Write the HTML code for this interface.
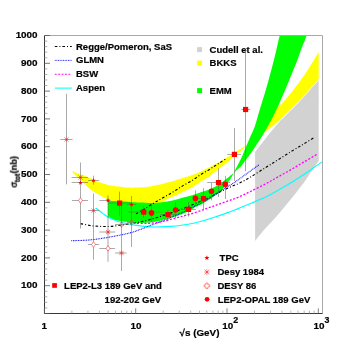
<!DOCTYPE html>
<html><head><meta charset="utf-8"><title>sigma tot</title>
<style>html,body{margin:0;padding:0;background:#fff;}body{width:360px;height:350px;overflow:hidden;}svg{display:block;}text{font-family:"Liberation Sans",sans-serif;font-weight:bold;fill:#000;stroke:#000;stroke-width:0.2px;will-change:transform;}</style>
</head><body>
<svg width="360" height="350" viewBox="0 0 360 350">
<rect x="0" y="0" width="360" height="350" fill="#fff"/>
<path d="M255.1 151.9 C256.8 149.8 262.3 142.6 265.0 139.2 C267.7 135.8 268.9 134.2 271.3 131.3 C273.7 128.4 276.9 124.6 279.3 122.0 C281.7 119.4 282.1 119.2 285.7 115.6 C289.3 112.0 296.8 104.3 300.7 100.2 C304.6 96.1 306.3 94.0 309.3 90.7 C312.3 87.4 317.1 82.0 318.7 80.3 L318.7 161.0 C317.6 162.6 314.4 167.0 312.0 170.5 C309.6 174.0 307.7 177.2 304.3 181.9 C300.9 186.6 295.7 193.2 291.4 198.6 C287.1 203.9 282.9 209.1 278.6 214.0 C274.3 218.9 269.6 223.6 265.7 228.1 C261.8 232.6 256.9 238.8 255.1 241.0 Z" fill="#d2d2d2"/>
<path d="M71.6 171.0 C73.0 171.5 77.7 173.3 80.0 174.2 C82.3 175.1 83.5 175.4 85.7 176.3 C87.9 177.2 91.4 178.8 93.4 179.7 C95.5 180.6 96.1 181.1 98.0 181.8 C99.9 182.5 102.8 183.4 105.0 184.0 C107.2 184.6 107.8 185.1 110.9 185.6 C114.0 186.1 120.5 186.9 123.7 187.2 C126.9 187.5 127.8 187.5 130.0 187.6 C132.2 187.7 134.4 187.6 136.6 187.5 C138.8 187.4 140.8 187.4 143.0 187.2 C145.2 187.0 147.2 186.8 150.0 186.4 C152.8 186.0 157.1 185.2 160.0 184.6 C162.9 184.0 164.7 183.3 167.2 182.6 C169.7 181.9 172.2 181.2 175.0 180.4 C177.8 179.6 181.3 178.4 184.3 177.5 C187.3 176.6 190.0 175.8 192.9 174.7 C195.8 173.6 199.0 172.3 201.5 171.2 C204.0 170.1 205.9 169.2 208.0 168.1 C210.1 167.0 212.1 165.9 214.3 164.7 C216.5 163.5 218.6 162.3 221.0 160.9 C223.4 159.5 226.3 157.8 228.6 156.4 C230.9 155.0 232.6 153.9 235.0 152.4 C237.4 150.9 240.8 148.8 242.9 147.5 C245.0 146.2 246.6 145.2 247.3 144.7 L247.3 145.4 C246.6 146.0 244.8 147.6 242.9 149.2 C241.0 150.8 238.1 152.8 235.7 154.8 C233.3 156.8 231.0 159.1 228.6 161.2 C226.2 163.3 223.4 165.4 221.0 167.3 C218.6 169.2 216.5 170.9 214.3 172.6 C212.1 174.3 210.3 175.9 207.9 177.5 C205.5 179.1 202.5 180.5 200.0 182.1 C197.5 183.7 195.5 185.4 192.9 186.9 C190.3 188.4 187.2 189.8 184.3 191.2 C181.4 192.6 178.5 194.2 175.7 195.5 C172.8 196.8 169.8 197.7 167.2 198.9 C164.6 200.2 164.5 202.0 160.0 203.0 C155.5 204.0 146.7 205.0 140.0 205.0 C133.3 205.0 125.3 203.9 120.0 203.0 C114.7 202.1 110.8 200.5 108.0 199.5 C105.2 198.5 104.7 197.9 103.0 197.0 C101.3 196.1 99.5 195.0 98.0 194.1 C96.5 193.2 95.3 192.7 94.0 191.8 C92.7 191.0 91.4 190.1 90.0 189.0 C88.6 187.9 87.4 186.6 85.7 185.0 C84.0 183.4 81.8 181.0 80.0 179.3 C78.2 177.6 76.4 176.2 75.0 174.8 C73.6 173.4 72.2 171.6 71.6 171.0 Z" fill="#ffff00"/>
<path d="M258.0 126.0 C260.0 124.1 266.7 117.7 270.0 114.5 C273.3 111.3 275.3 109.5 277.9 107.0 C280.4 104.5 282.9 102.4 285.3 99.8 C287.7 97.2 289.6 94.8 292.2 91.5 C294.8 88.2 297.8 84.3 300.7 80.3 C303.6 76.3 306.3 72.1 309.3 67.4 C312.3 62.7 317.1 54.6 318.7 52.0 L318.7 79.8 C317.1 81.5 312.3 86.5 309.3 89.7 C306.3 92.9 304.6 95.1 300.7 99.2 C296.8 103.3 289.3 110.8 285.7 114.3 C282.1 117.8 281.7 118.1 279.3 120.3 C276.9 122.5 273.4 125.6 271.4 127.3 C269.3 129.0 269.2 128.5 267.0 130.3 C264.8 132.1 259.5 136.7 258.0 138.0 Z" fill="#ffff00"/>
<path d="M108.0 200.4 C109.0 200.5 112.0 200.8 114.0 201.0 C116.0 201.2 117.3 201.1 120.0 201.3 C122.7 201.5 126.7 201.8 130.0 202.0 C133.3 202.2 137.3 202.5 140.0 202.6 C142.7 202.7 144.3 202.7 146.0 202.8 C147.7 202.9 147.7 203.1 150.0 203.0 C152.3 202.9 157.1 202.7 160.0 202.4 C162.9 202.2 164.6 201.9 167.2 201.5 C169.8 201.1 172.8 200.4 175.7 199.7 C178.5 199.0 181.4 198.1 184.3 197.3 C187.2 196.5 190.0 195.8 192.9 194.9 C195.8 194.0 199.0 192.8 201.5 192.0 C204.0 191.2 205.8 190.8 207.9 190.0 C210.0 189.2 211.9 188.4 214.0 187.3 C216.1 186.2 218.5 184.7 220.7 183.2 C222.9 181.7 224.9 179.9 227.1 178.2 C229.2 176.5 232.5 173.8 233.6 172.9 L233.6 172.9 C233.2 173.8 232.1 176.2 231.0 178.0 C229.9 179.8 228.8 181.3 227.1 183.5 C225.4 185.7 222.9 188.8 220.7 190.9 C218.5 193.0 216.1 194.7 214.0 196.3 C211.9 197.9 210.1 199.2 207.9 200.6 C205.7 202.0 203.2 203.4 201.0 204.5 C198.8 205.6 196.8 206.3 195.0 207.3 C193.2 208.3 192.1 209.4 190.0 210.5 C187.9 211.6 185.5 212.8 182.5 214.0 C179.5 215.2 174.9 216.7 172.0 217.6 C169.1 218.5 167.3 218.7 165.0 219.3 C162.7 219.9 160.5 220.8 158.0 221.3 C155.5 221.8 152.5 222.2 150.0 222.5 C147.5 222.8 145.2 222.9 143.0 223.0 C140.8 223.1 139.2 223.0 137.0 222.9 C134.8 222.8 132.0 222.6 130.0 222.4 C128.0 222.2 127.1 222.1 125.0 221.8 C122.9 221.5 119.5 221.0 117.3 220.5 C115.1 220.0 113.5 219.3 112.0 218.7 C110.5 218.1 108.7 217.1 108.0 216.8 L108 216.8 Z" fill="#00ff00"/>
<path d="M233.6 172.9 C234.4 171.3 237.0 166.7 238.6 163.6 C240.2 160.5 241.6 157.5 243.0 154.3 C244.4 151.1 245.9 147.1 247.1 144.3 C248.3 141.5 248.7 140.5 250.0 137.5 C251.3 134.5 253.5 130.3 254.9 126.3 C256.3 122.3 257.5 117.3 258.6 113.6 C259.7 109.9 260.6 107.1 261.5 104.0 C262.4 100.9 263.3 98.3 264.3 95.0 C265.3 91.7 266.5 87.7 267.5 84.0 C268.5 80.3 269.5 76.7 270.5 73.0 C271.5 69.3 272.5 65.6 273.4 62.0 C274.3 58.4 275.2 55.0 276.0 51.5 C276.8 48.0 277.8 43.7 278.4 41.0 C279.0 38.3 279.6 36.1 279.8 35.1 L306.8 35.1 C306.5 35.9 306.0 37.4 305.0 40.0 C304.0 42.6 301.9 47.3 300.7 50.5 C299.5 53.7 299.2 55.3 297.8 59.0 C296.4 62.7 293.7 69.1 292.2 72.8 C290.7 76.5 290.2 77.8 288.8 81.2 C287.4 84.7 285.3 89.5 283.6 93.5 C281.9 97.5 280.0 101.8 278.6 105.0 C277.2 108.2 276.2 110.0 275.0 112.5 C273.8 115.0 273.0 116.9 271.3 120.0 C269.6 123.1 266.9 128.1 265.0 131.3 C263.1 134.6 261.4 137.2 260.0 139.5 C258.6 141.8 257.9 142.7 256.4 145.0 C254.8 147.3 252.4 151.1 250.7 153.5 C249.0 155.9 247.6 157.5 246.0 159.6 C244.4 161.7 243.4 163.8 241.3 166.0 C239.2 168.2 234.9 171.8 233.6 172.9 Z" fill="#00ff00"/>
<path d="M96.0 208.2 C96.3 208.4 96.8 208.8 98.0 209.7 C99.2 210.6 101.3 212.3 103.0 213.6 C104.7 214.8 106.3 216.2 108.0 217.2 C109.7 218.2 111.5 218.9 113.0 219.6 C114.5 220.3 115.6 220.7 117.3 221.2 C119.0 221.7 120.9 222.3 123.0 222.8 C125.1 223.3 127.2 223.8 130.0 224.3 C132.8 224.8 136.7 225.5 140.0 225.9 C143.3 226.3 146.7 226.6 150.0 226.8 C153.3 227.0 156.7 227.0 160.0 226.9 C163.3 226.8 166.7 226.6 170.0 226.4 C173.3 226.2 175.9 226.1 180.0 225.5 C184.1 224.9 190.5 223.9 194.7 223.0 C198.9 222.1 201.6 221.2 205.0 220.2 C208.4 219.2 211.7 218.1 215.0 217.0 C218.3 215.9 221.7 214.8 225.0 213.6 C228.3 212.4 232.3 211.0 234.8 210.0 C237.3 209.0 237.5 208.9 240.0 207.8 C242.5 206.8 247.0 204.9 250.0 203.7 C253.0 202.4 255.4 201.4 258.0 200.3 C260.6 199.2 262.3 198.7 265.7 197.0 C269.1 195.3 274.3 192.4 278.6 190.0 C282.9 187.6 287.1 185.2 291.4 182.6 C295.7 180.0 300.5 176.7 304.3 174.2 C308.1 171.7 311.0 169.6 314.0 167.5 C317.0 165.4 321.0 162.6 322.4 161.6" fill="none" stroke="#00ffff" stroke-width="1.15"/>
<path d="M80.6 223.6 C82.2 223.9 86.8 225.0 90.0 225.5 C93.2 226.0 96.7 226.2 100.0 226.4 C103.3 226.6 106.7 226.6 110.0 226.4 C113.3 226.2 116.7 225.7 120.0 225.3 C123.3 224.9 126.9 224.3 130.0 223.8 C133.1 223.3 136.0 222.7 138.6 222.2 C141.2 221.7 143.3 221.2 145.7 220.6 C148.1 220.0 150.5 219.5 152.8 218.8 C155.2 218.2 157.8 217.3 159.8 216.7 C161.8 216.0 163.0 215.6 165.0 214.9 C167.0 214.2 169.6 213.4 172.0 212.6 C174.4 211.8 177.0 210.8 179.3 210.0 C181.6 209.2 183.2 208.6 185.7 207.6 C188.1 206.6 191.4 205.3 194.0 204.2 C196.6 203.1 198.7 202.2 201.0 201.2 C203.3 200.2 205.7 199.0 207.9 198.0 C210.1 197.0 211.9 196.1 214.0 195.0 C216.1 193.9 218.5 192.7 220.7 191.6 C222.9 190.5 224.8 189.6 227.0 188.6 C229.2 187.6 231.4 186.6 233.6 185.6 C235.8 184.6 237.3 184.2 240.0 182.8 C242.7 181.4 245.7 180.0 250.0 177.4 C254.3 174.8 261.0 170.4 265.7 167.5 C270.4 164.6 273.7 162.5 278.0 159.8 C282.3 157.1 287.2 154.0 291.4 151.4 C295.6 148.8 299.3 146.7 303.0 144.4 C306.7 142.1 312.0 138.9 313.8 137.8" fill="none" stroke="#000" stroke-width="1.12" stroke-dasharray="2.6 2 1 2"/>
<path d="M136.0 213.8 C137.2 213.1 141.2 210.9 143.0 209.8 C144.8 208.7 145.1 208.6 147.0 207.4 C148.9 206.2 152.3 203.8 154.5 202.5 C156.7 201.2 157.9 200.6 160.0 199.4 C162.1 198.2 164.7 196.8 166.8 195.6 C169.0 194.4 170.8 193.3 172.9 192.0 C175.0 190.7 177.4 189.2 179.3 188.0 C181.2 186.8 182.2 186.1 184.3 184.8 C186.4 183.6 189.5 182.1 192.1 180.5 C194.7 178.9 197.4 176.8 200.0 175.1 C202.6 173.4 205.5 171.9 207.9 170.4 C210.3 168.9 212.3 167.6 214.3 166.3 C216.3 165.0 218.0 163.9 220.0 162.6 C222.0 161.3 225.2 159.3 226.3 158.6" fill="none" stroke="#000" stroke-width="1.12" stroke-dasharray="2.6 2 1 2"/>
<path d="M71.4 240.6 C72.8 240.6 76.9 240.6 80.0 240.5 C83.1 240.4 86.7 240.2 90.0 239.9 C93.3 239.6 96.7 239.2 100.0 238.7 C103.3 238.2 106.7 237.6 110.0 237.0 C113.3 236.4 116.7 235.8 120.0 235.1 C123.3 234.4 126.7 233.8 130.0 232.9 C133.3 232.0 136.7 230.8 140.0 229.6 C143.3 228.4 146.7 226.9 150.0 225.6 C153.3 224.3 156.7 223.1 160.0 221.8 C163.3 220.5 166.7 219.2 170.0 217.8 C173.3 216.4 177.0 214.8 180.0 213.5 C183.0 212.2 185.5 211.1 188.0 209.8 C190.5 208.6 192.8 207.2 195.0 206.0 C197.2 204.8 199.3 204.0 201.5 202.8 C203.7 201.7 205.8 200.3 207.9 199.1 C210.0 197.8 211.9 196.7 214.0 195.3 C216.1 193.9 218.5 192.2 220.7 190.8 C222.9 189.4 224.8 188.3 227.0 187.0 C229.2 185.7 231.4 184.4 233.6 183.0 C235.8 181.6 237.9 180.1 240.0 178.6 C242.1 177.1 244.1 175.6 246.0 174.2 C247.9 172.8 249.3 171.8 251.5 170.2 C253.7 168.6 258.0 165.5 259.3 164.6" fill="none" stroke="#0000ff" stroke-width="1.1" stroke-dasharray="0.85 0.8"/>
<path d="M137.0 223.3 C138.3 223.3 142.5 223.4 145.0 223.4 C147.5 223.4 149.5 223.3 152.0 223.1 C154.5 222.9 157.8 222.5 160.0 222.2 C162.2 221.8 162.8 221.6 165.0 221.0 C167.2 220.4 170.4 219.4 172.9 218.7 C175.4 218.0 177.9 217.6 180.0 217.0 C182.1 216.4 183.5 215.9 185.7 215.3 C187.9 214.7 190.4 214.1 193.0 213.3 C195.6 212.5 198.9 211.3 201.0 210.6 C203.1 209.9 203.3 209.6 205.3 208.9 C207.3 208.2 210.4 207.2 213.0 206.3 C215.6 205.4 217.9 204.6 220.7 203.6 C223.5 202.6 227.0 201.4 230.0 200.3 C233.0 199.2 235.4 198.4 238.7 197.0 C242.0 195.6 245.5 193.9 250.0 191.7 C254.5 189.5 261.0 186.3 265.7 183.8 C270.4 181.3 273.7 179.3 278.0 176.9 C282.3 174.5 287.1 171.9 291.4 169.4 C295.7 166.9 299.7 164.5 304.0 162.0 C308.3 159.5 314.9 155.5 317.1 154.2" fill="none" stroke="#ff00ff" stroke-width="1.3" stroke-dasharray="2 1.7"/>
<path d="M44.5 35.5 H322.5 V313.5" fill="none" stroke="#a8a8a8" stroke-width="1"/>
<path d="M44.5 35.5 V313.5 H322.5" fill="none" stroke="#383838" stroke-width="1"/>
<line x1="44.5" y1="313.50" x2="50.0" y2="313.50" stroke="#555" stroke-width="0.8"/>
<line x1="44.5" y1="307.94" x2="47.3" y2="307.94" stroke="#9a9a9a" stroke-width="0.8"/>
<line x1="44.5" y1="302.38" x2="47.3" y2="302.38" stroke="#9a9a9a" stroke-width="0.8"/>
<line x1="44.5" y1="296.82" x2="47.3" y2="296.82" stroke="#9a9a9a" stroke-width="0.8"/>
<line x1="44.5" y1="291.26" x2="47.3" y2="291.26" stroke="#9a9a9a" stroke-width="0.8"/>
<line x1="44.5" y1="285.70" x2="50.0" y2="285.70" stroke="#555" stroke-width="0.8"/>
<line x1="44.5" y1="280.14" x2="47.3" y2="280.14" stroke="#9a9a9a" stroke-width="0.8"/>
<line x1="44.5" y1="274.58" x2="47.3" y2="274.58" stroke="#9a9a9a" stroke-width="0.8"/>
<line x1="44.5" y1="269.02" x2="47.3" y2="269.02" stroke="#9a9a9a" stroke-width="0.8"/>
<line x1="44.5" y1="263.46" x2="47.3" y2="263.46" stroke="#9a9a9a" stroke-width="0.8"/>
<line x1="44.5" y1="257.90" x2="50.0" y2="257.90" stroke="#555" stroke-width="0.8"/>
<line x1="44.5" y1="252.34" x2="47.3" y2="252.34" stroke="#9a9a9a" stroke-width="0.8"/>
<line x1="44.5" y1="246.78" x2="47.3" y2="246.78" stroke="#9a9a9a" stroke-width="0.8"/>
<line x1="44.5" y1="241.22" x2="47.3" y2="241.22" stroke="#9a9a9a" stroke-width="0.8"/>
<line x1="44.5" y1="235.66" x2="47.3" y2="235.66" stroke="#9a9a9a" stroke-width="0.8"/>
<line x1="44.5" y1="230.10" x2="50.0" y2="230.10" stroke="#555" stroke-width="0.8"/>
<line x1="44.5" y1="224.54" x2="47.3" y2="224.54" stroke="#9a9a9a" stroke-width="0.8"/>
<line x1="44.5" y1="218.98" x2="47.3" y2="218.98" stroke="#9a9a9a" stroke-width="0.8"/>
<line x1="44.5" y1="213.42" x2="47.3" y2="213.42" stroke="#9a9a9a" stroke-width="0.8"/>
<line x1="44.5" y1="207.86" x2="47.3" y2="207.86" stroke="#9a9a9a" stroke-width="0.8"/>
<line x1="44.5" y1="202.30" x2="50.0" y2="202.30" stroke="#555" stroke-width="0.8"/>
<line x1="44.5" y1="196.74" x2="47.3" y2="196.74" stroke="#9a9a9a" stroke-width="0.8"/>
<line x1="44.5" y1="191.18" x2="47.3" y2="191.18" stroke="#9a9a9a" stroke-width="0.8"/>
<line x1="44.5" y1="185.62" x2="47.3" y2="185.62" stroke="#9a9a9a" stroke-width="0.8"/>
<line x1="44.5" y1="180.06" x2="47.3" y2="180.06" stroke="#9a9a9a" stroke-width="0.8"/>
<line x1="44.5" y1="174.50" x2="50.0" y2="174.50" stroke="#555" stroke-width="0.8"/>
<line x1="44.5" y1="168.94" x2="47.3" y2="168.94" stroke="#9a9a9a" stroke-width="0.8"/>
<line x1="44.5" y1="163.38" x2="47.3" y2="163.38" stroke="#9a9a9a" stroke-width="0.8"/>
<line x1="44.5" y1="157.82" x2="47.3" y2="157.82" stroke="#9a9a9a" stroke-width="0.8"/>
<line x1="44.5" y1="152.26" x2="47.3" y2="152.26" stroke="#9a9a9a" stroke-width="0.8"/>
<line x1="44.5" y1="146.70" x2="50.0" y2="146.70" stroke="#555" stroke-width="0.8"/>
<line x1="44.5" y1="141.14" x2="47.3" y2="141.14" stroke="#9a9a9a" stroke-width="0.8"/>
<line x1="44.5" y1="135.58" x2="47.3" y2="135.58" stroke="#9a9a9a" stroke-width="0.8"/>
<line x1="44.5" y1="130.02" x2="47.3" y2="130.02" stroke="#9a9a9a" stroke-width="0.8"/>
<line x1="44.5" y1="124.46" x2="47.3" y2="124.46" stroke="#9a9a9a" stroke-width="0.8"/>
<line x1="44.5" y1="118.90" x2="50.0" y2="118.90" stroke="#555" stroke-width="0.8"/>
<line x1="44.5" y1="113.34" x2="47.3" y2="113.34" stroke="#9a9a9a" stroke-width="0.8"/>
<line x1="44.5" y1="107.78" x2="47.3" y2="107.78" stroke="#9a9a9a" stroke-width="0.8"/>
<line x1="44.5" y1="102.22" x2="47.3" y2="102.22" stroke="#9a9a9a" stroke-width="0.8"/>
<line x1="44.5" y1="96.66" x2="47.3" y2="96.66" stroke="#9a9a9a" stroke-width="0.8"/>
<line x1="44.5" y1="91.10" x2="50.0" y2="91.10" stroke="#555" stroke-width="0.8"/>
<line x1="44.5" y1="85.54" x2="47.3" y2="85.54" stroke="#9a9a9a" stroke-width="0.8"/>
<line x1="44.5" y1="79.98" x2="47.3" y2="79.98" stroke="#9a9a9a" stroke-width="0.8"/>
<line x1="44.5" y1="74.42" x2="47.3" y2="74.42" stroke="#9a9a9a" stroke-width="0.8"/>
<line x1="44.5" y1="68.86" x2="47.3" y2="68.86" stroke="#9a9a9a" stroke-width="0.8"/>
<line x1="44.5" y1="63.30" x2="50.0" y2="63.30" stroke="#555" stroke-width="0.8"/>
<line x1="44.5" y1="57.74" x2="47.3" y2="57.74" stroke="#9a9a9a" stroke-width="0.8"/>
<line x1="44.5" y1="52.18" x2="47.3" y2="52.18" stroke="#9a9a9a" stroke-width="0.8"/>
<line x1="44.5" y1="46.62" x2="47.3" y2="46.62" stroke="#9a9a9a" stroke-width="0.8"/>
<line x1="44.5" y1="41.06" x2="47.3" y2="41.06" stroke="#9a9a9a" stroke-width="0.8"/>
<line x1="44.5" y1="35.50" x2="50.0" y2="35.50" stroke="#555" stroke-width="0.8"/>
<line x1="44.40" y1="313.5" x2="44.40" y2="308.3" stroke="#666" stroke-width="0.8"/>
<line x1="71.88" y1="313.5" x2="71.88" y2="310.7" stroke="#a0a0a0" stroke-width="0.8"/>
<line x1="87.96" y1="313.5" x2="87.96" y2="310.7" stroke="#a0a0a0" stroke-width="0.8"/>
<line x1="99.37" y1="313.5" x2="99.37" y2="310.7" stroke="#a0a0a0" stroke-width="0.8"/>
<line x1="108.22" y1="313.5" x2="108.22" y2="310.7" stroke="#a0a0a0" stroke-width="0.8"/>
<line x1="115.45" y1="313.5" x2="115.45" y2="310.7" stroke="#a0a0a0" stroke-width="0.8"/>
<line x1="121.56" y1="313.5" x2="121.56" y2="310.7" stroke="#a0a0a0" stroke-width="0.8"/>
<line x1="126.85" y1="313.5" x2="126.85" y2="310.7" stroke="#a0a0a0" stroke-width="0.8"/>
<line x1="131.52" y1="313.5" x2="131.52" y2="310.7" stroke="#a0a0a0" stroke-width="0.8"/>
<line x1="135.70" y1="313.5" x2="135.70" y2="308.3" stroke="#666" stroke-width="0.8"/>
<line x1="163.18" y1="313.5" x2="163.18" y2="310.7" stroke="#a0a0a0" stroke-width="0.8"/>
<line x1="179.26" y1="313.5" x2="179.26" y2="310.7" stroke="#a0a0a0" stroke-width="0.8"/>
<line x1="190.67" y1="313.5" x2="190.67" y2="310.7" stroke="#a0a0a0" stroke-width="0.8"/>
<line x1="199.52" y1="313.5" x2="199.52" y2="310.7" stroke="#a0a0a0" stroke-width="0.8"/>
<line x1="206.75" y1="313.5" x2="206.75" y2="310.7" stroke="#a0a0a0" stroke-width="0.8"/>
<line x1="212.86" y1="313.5" x2="212.86" y2="310.7" stroke="#a0a0a0" stroke-width="0.8"/>
<line x1="218.15" y1="313.5" x2="218.15" y2="310.7" stroke="#a0a0a0" stroke-width="0.8"/>
<line x1="222.82" y1="313.5" x2="222.82" y2="310.7" stroke="#a0a0a0" stroke-width="0.8"/>
<line x1="227.00" y1="313.5" x2="227.00" y2="308.3" stroke="#666" stroke-width="0.8"/>
<line x1="254.48" y1="313.5" x2="254.48" y2="310.7" stroke="#a0a0a0" stroke-width="0.8"/>
<line x1="270.56" y1="313.5" x2="270.56" y2="310.7" stroke="#a0a0a0" stroke-width="0.8"/>
<line x1="281.97" y1="313.5" x2="281.97" y2="310.7" stroke="#a0a0a0" stroke-width="0.8"/>
<line x1="290.82" y1="313.5" x2="290.82" y2="310.7" stroke="#a0a0a0" stroke-width="0.8"/>
<line x1="298.05" y1="313.5" x2="298.05" y2="310.7" stroke="#a0a0a0" stroke-width="0.8"/>
<line x1="304.16" y1="313.5" x2="304.16" y2="310.7" stroke="#a0a0a0" stroke-width="0.8"/>
<line x1="309.45" y1="313.5" x2="309.45" y2="310.7" stroke="#a0a0a0" stroke-width="0.8"/>
<line x1="314.12" y1="313.5" x2="314.12" y2="310.7" stroke="#a0a0a0" stroke-width="0.8"/>
<line x1="318.30" y1="313.5" x2="318.30" y2="308.3" stroke="#666" stroke-width="0.8"/>
<text x="37.6" y="288.4" font-size="9.9" text-anchor="end">100</text>
<text x="37.6" y="260.6" font-size="9.9" text-anchor="end">200</text>
<text x="37.6" y="232.8" font-size="9.9" text-anchor="end">300</text>
<text x="37.6" y="205.1" font-size="9.9" text-anchor="end">400</text>
<text x="37.6" y="177.2" font-size="9.9" text-anchor="end">500</text>
<text x="37.6" y="149.4" font-size="9.9" text-anchor="end">600</text>
<text x="37.6" y="121.7" font-size="9.9" text-anchor="end">700</text>
<text x="37.6" y="93.8" font-size="9.9" text-anchor="end">800</text>
<text x="37.6" y="66.1" font-size="9.9" text-anchor="end">900</text>
<text x="37.6" y="38.2" font-size="9.9" text-anchor="end">1000</text>
<text x="44.2" y="328.8" font-size="9.9" text-anchor="middle">1</text>
<text x="136" y="328.8" font-size="9.9" text-anchor="middle">10</text>
<text x="222.3" y="328.8" font-size="9.9">10</text>
<text x="233.2" y="322.6" font-size="8.8">2</text>
<text x="313.6" y="328.8" font-size="9.9">10</text>
<text x="324.5" y="322.6" font-size="8.8">3</text>
<text x="179.5" y="336" font-size="9.9">&#8730;s (GeV)</text>
<g transform="translate(16.8,187.6) rotate(-90)"><text x="0" y="0" font-size="9.2" style="font-weight:normal;stroke-width:0.45px">&#963;</text><text x="5.6" y="3" font-size="6.4" style="stroke-width:0.3px">tot</text><text x="14.3" y="0" font-size="9.1">(nb)</text></g>
<line x1="54.8" y1="46.5" x2="71.8" y2="46.5" stroke="#000" stroke-width="1" stroke-dasharray="2.6 2 1 2"/>
<line x1="54.8" y1="60.4" x2="71.8" y2="60.4" stroke="#0000ff" stroke-width="0.95" stroke-dasharray="0.85 0.8"/>
<line x1="54.8" y1="74.2" x2="71.8" y2="74.2" stroke="#ff00ff" stroke-width="1.1" stroke-dasharray="1.9 1.5"/>
<line x1="54.8" y1="88.1" x2="71.8" y2="88.1" stroke="#00ffff" stroke-width="1.05"/>
<text x="76" y="49.65" font-size="9.5">Regge/Pomeron, SaS</text>
<text x="76" y="63.05" font-size="9.5">GLMN</text>
<text x="76" y="76.85" font-size="9.5">BSW</text>
<text x="76" y="90.50" font-size="9.5">Aspen</text>
<rect x="197.1" y="47.1" width="5" height="5" fill="#d2d2d2"/>
<text x="209.6" y="52.75" font-size="9.5">Cudell et al.</text>
<rect x="197.1" y="60.6" width="5" height="5" fill="#ffff00"/>
<text x="209.6" y="65.75" font-size="9.5">BKKS</text>
<rect x="197.1" y="88.1" width="5" height="5" fill="#00ff00"/>
<text x="209.6" y="93.75" font-size="9.5">EMM</text>
<polygon points="206.90,255.20 207.57,256.98 209.47,257.07 207.98,258.25 208.49,260.08 206.90,259.03 205.31,260.08 205.82,258.25 204.33,257.07 206.23,256.98" fill="#ff0000"/>
<text x="219.6" y="261.2" font-size="9.5">TPC</text>
<path d="M204.0 272.0 H209.8 M206.9 269.1 V274.9" stroke="#ff5050" stroke-width="0.55" fill="none"/>
<path d="M204.5 269.6 L209.3 274.4 M204.5 274.4 L209.3 269.6" stroke="#ff3030" stroke-width="0.6" fill="none"/>
<circle cx="206.9" cy="272.0" r="0.8" fill="#ff2020"/>
<text x="217.5" y="274.5" font-size="9.5">Desy 1984</text>
<polygon points="205.9,283.0 207.9,283.0 207.9,284.8 209.7,284.8 209.7,286.8 207.9,286.8 207.9,288.6 205.9,288.6 205.9,286.8 204.1,286.8 204.1,284.8 205.9,284.8" stroke="#ff4040" stroke-width="0.6" fill="#fff"/>
<text x="217.5" y="288.5" font-size="9.5">DESY 86</text>
<circle cx="207.1" cy="299.3" r="2.4" fill="#ff0000"/>
<text x="217.7" y="302.7" font-size="9.5">LEP2-OPAL 189 GeV</text>
<rect x="52.2" y="283.1" width="4.7" height="4.7" fill="#ff0000"/>
<text x="64.1" y="289.3" font-size="9.5">LEP2-L3 189 GeV and</text>
<text x="104.6" y="302.6" font-size="9.5">192-202 GeV</text>
<line x1="66.5" y1="93.9" x2="66.5" y2="184.4" stroke="#666666" stroke-width="0.56"/>
<line x1="80.5" y1="162.5" x2="80.5" y2="228.6" stroke="#666666" stroke-width="0.56"/>
<line x1="93.5" y1="175.7" x2="93.5" y2="184.7" stroke="#666666" stroke-width="0.56"/>
<line x1="93.5" y1="193.6" x2="93.5" y2="259.6" stroke="#666666" stroke-width="0.56"/>
<line x1="108.0" y1="195.4" x2="108.0" y2="261.8" stroke="#666666" stroke-width="0.56"/>
<line x1="119.5" y1="191.6" x2="119.5" y2="216.0" stroke="#666666" stroke-width="0.56"/>
<line x1="121.5" y1="205.0" x2="121.5" y2="271.0" stroke="#666666" stroke-width="0.56"/>
<line x1="131.5" y1="196.0" x2="131.5" y2="247.0" stroke="#666666" stroke-width="0.56"/>
<line x1="143.5" y1="206.0" x2="143.5" y2="218.0" stroke="#666666" stroke-width="0.56"/>
<line x1="151.5" y1="203.5" x2="151.5" y2="222.0" stroke="#666666" stroke-width="0.56"/>
<line x1="168.0" y1="209.5" x2="168.0" y2="221.0" stroke="#666666" stroke-width="0.56"/>
<line x1="175.5" y1="202.5" x2="175.5" y2="218.0" stroke="#666666" stroke-width="0.56"/>
<line x1="188.5" y1="201.9" x2="188.5" y2="216.6" stroke="#666666" stroke-width="0.56"/>
<line x1="195.5" y1="190.3" x2="195.5" y2="206.5" stroke="#666666" stroke-width="0.56"/>
<line x1="203.5" y1="188.1" x2="203.5" y2="210.5" stroke="#666666" stroke-width="0.56"/>
<line x1="211.5" y1="183.0" x2="211.5" y2="200.3" stroke="#666666" stroke-width="0.56"/>
<line x1="218.5" y1="168.4" x2="218.5" y2="197.1" stroke="#666666" stroke-width="0.56"/>
<line x1="225.5" y1="175.8" x2="225.5" y2="199.0" stroke="#666666" stroke-width="0.56"/>
<line x1="234.5" y1="128.0" x2="234.5" y2="181.0" stroke="#666666" stroke-width="0.56"/>
<line x1="245.5" y1="49.3" x2="245.5" y2="171.3" stroke="#666666" stroke-width="0.56"/>
<line x1="60.3" y1="139.5" x2="72.5" y2="139.5" stroke="#666666" stroke-width="0.56"/>
<line x1="71.6" y1="177.5" x2="88.0" y2="177.5" stroke="#666666" stroke-width="0.56"/>
<line x1="71.6" y1="182.5" x2="88.0" y2="182.5" stroke="#666666" stroke-width="0.56"/>
<line x1="72.0" y1="200.5" x2="88.0" y2="200.5" stroke="#666666" stroke-width="0.56"/>
<line x1="88.0" y1="180.5" x2="99.2" y2="180.5" stroke="#666666" stroke-width="0.56"/>
<line x1="88.0" y1="210.5" x2="99.2" y2="210.5" stroke="#666666" stroke-width="0.56"/>
<line x1="88.0" y1="244.5" x2="99.2" y2="244.5" stroke="#666666" stroke-width="0.56"/>
<line x1="99.3" y1="200.5" x2="110.5" y2="200.5" stroke="#666666" stroke-width="0.56"/>
<line x1="108.0" y1="203.0" x2="131.0" y2="203.0" stroke="#666666" stroke-width="0.56"/>
<line x1="99.3" y1="232.0" x2="115.1" y2="232.0" stroke="#666666" stroke-width="0.56"/>
<line x1="99.3" y1="248.5" x2="115.1" y2="248.5" stroke="#666666" stroke-width="0.56"/>
<line x1="115.0" y1="224.5" x2="128.0" y2="224.5" stroke="#666666" stroke-width="0.56"/>
<line x1="115.1" y1="253.0" x2="126.7" y2="253.0" stroke="#666666" stroke-width="0.56"/>
<line x1="127.0" y1="204.5" x2="136.0" y2="204.5" stroke="#666666" stroke-width="0.56"/>
<line x1="127.0" y1="222.5" x2="136.0" y2="222.5" stroke="#666666" stroke-width="0.56"/>
<line x1="128.4" y1="212.0" x2="147.0" y2="212.0" stroke="#666666" stroke-width="0.56"/>
<line x1="160.0" y1="214.5" x2="176.0" y2="214.5" stroke="#666666" stroke-width="0.56"/>
<line x1="181.0" y1="209.5" x2="196.0" y2="209.5" stroke="#666666" stroke-width="0.56"/>
<line x1="196.0" y1="198.5" x2="211.0" y2="198.5" stroke="#666666" stroke-width="0.56"/>
<line x1="207.2" y1="182.5" x2="230.0" y2="182.5" stroke="#666666" stroke-width="0.56"/>
<line x1="227.2" y1="154.5" x2="241.0" y2="154.5" stroke="#666666" stroke-width="0.56"/>
<line x1="241.3" y1="109.5" x2="250.3" y2="109.5" stroke="#666666" stroke-width="0.56"/>
<line x1="147" y1="212.1" x2="162.4" y2="212.1" stroke="#606060" stroke-width="0.58" opacity="0.45"/>
<path d="M63.9 139.5 H69.1 M66.5 136.9 V142.1" stroke="#ff5050" stroke-width="0.55" fill="none"/>
<path d="M64.4 137.4 L68.6 141.6 M64.4 141.6 L68.6 137.4" stroke="#ff3030" stroke-width="0.6" fill="none"/>
<circle cx="66.5" cy="139.5" r="0.8" fill="#ff2020"/>
<path d="M77.9 177.5 H83.1 M80.5 174.9 V180.1" stroke="#ff5050" stroke-width="0.55" fill="none"/>
<path d="M78.4 175.4 L82.6 179.6 M78.4 179.6 L82.6 175.4" stroke="#ff3030" stroke-width="0.6" fill="none"/>
<circle cx="80.5" cy="177.5" r="0.8" fill="#ff2020"/>
<path d="M90.9 210.6 H96.1 M93.5 208.0 V213.2" stroke="#ff5050" stroke-width="0.55" fill="none"/>
<path d="M91.4 208.5 L95.6 212.7 M91.4 212.7 L95.6 208.5" stroke="#ff3030" stroke-width="0.6" fill="none"/>
<circle cx="93.5" cy="210.6" r="0.8" fill="#ff2020"/>
<path d="M105.4 232.0 H110.6 M108.0 229.4 V234.6" stroke="#ff5050" stroke-width="0.55" fill="none"/>
<path d="M105.9 229.9 L110.1 234.1 M105.9 234.1 L110.1 229.9" stroke="#ff3030" stroke-width="0.6" fill="none"/>
<circle cx="108.0" cy="232.0" r="0.8" fill="#ff2020"/>
<path d="M118.9 253.0 H124.1 M121.5 250.4 V255.6" stroke="#ff5050" stroke-width="0.55" fill="none"/>
<path d="M119.4 250.9 L123.6 255.1 M119.4 255.1 L123.6 250.9" stroke="#ff3030" stroke-width="0.6" fill="none"/>
<circle cx="121.5" cy="253.0" r="0.8" fill="#ff2020"/>
<path d="M80.5 197.5 L82.4 200.4 L80.5 203.3 L78.6 200.4 Z" stroke="#ff3838" stroke-width="0.6" fill="#fff"/>
<path d="M93.5 241.6 L95.4 244.5 L93.5 247.4 L91.6 244.5 Z" stroke="#ff3838" stroke-width="0.6" fill="#fff"/>
<path d="M108.0 245.5 L109.9 248.4 L108.0 251.3 L106.1 248.4 Z" stroke="#ff3838" stroke-width="0.6" fill="#fff"/>
<path d="M121.5 221.6 L123.4 224.5 L121.5 227.4 L119.6 224.5 Z" stroke="#ff3838" stroke-width="0.6" fill="none"/>
<path d="M131.5 219.5 L133.4 222.4 L131.5 225.3 L129.6 222.4 Z" stroke="#ff3838" stroke-width="0.6" fill="none"/>
<polygon points="80.50,180.30 81.09,181.88 82.78,181.96 81.46,183.01 81.91,184.64 80.50,183.71 79.09,184.64 79.54,183.01 78.22,181.96 79.91,181.88" fill="#ff0000"/>
<polygon points="93.50,178.10 94.09,179.68 95.78,179.76 94.46,180.81 94.91,182.44 93.50,181.51 92.09,182.44 92.54,180.81 91.22,179.76 92.91,179.68" fill="#ff0000"/>
<polygon points="108.00,198.00 108.59,199.58 110.28,199.66 108.96,200.71 109.41,202.34 108.00,201.41 106.59,202.34 107.04,200.71 105.72,199.66 107.41,199.58" fill="#ff0000"/>
<polygon points="131.50,202.20 132.09,203.78 133.78,203.86 132.46,204.91 132.91,206.54 131.50,205.61 130.09,206.54 130.54,204.91 129.22,203.86 130.91,203.78" fill="#ff0000"/>
<rect x="117.0" y="200.5" width="5.2" height="5.2" fill="#ff0000"/>
<rect x="141.1" y="209.5" width="5.2" height="5.2" fill="#ff0000"/>
<rect x="165.4" y="212.0" width="5.2" height="5.2" fill="#ff0000"/>
<rect x="185.9" y="206.8" width="5.2" height="5.2" fill="#ff0000"/>
<rect x="200.9" y="196.0" width="5.2" height="5.2" fill="#ff0000"/>
<rect x="215.9" y="180.0" width="5.2" height="5.2" fill="#ff0000"/>
<rect x="231.8" y="151.8" width="5.2" height="5.2" fill="#ff0000"/>
<rect x="243.0" y="106.9" width="5.2" height="5.2" fill="#ff0000"/>
<circle cx="151.5" cy="212.9" r="2.8" fill="#ff0000"/>
<circle cx="175.6" cy="210.0" r="2.8" fill="#ff0000"/>
<circle cx="195.4" cy="198.4" r="2.8" fill="#ff0000"/>
<circle cx="211.5" cy="191.3" r="2.8" fill="#ff0000"/>
<circle cx="225.3" cy="184.4" r="2.8" fill="#ff0000"/>
</svg></body></html>
